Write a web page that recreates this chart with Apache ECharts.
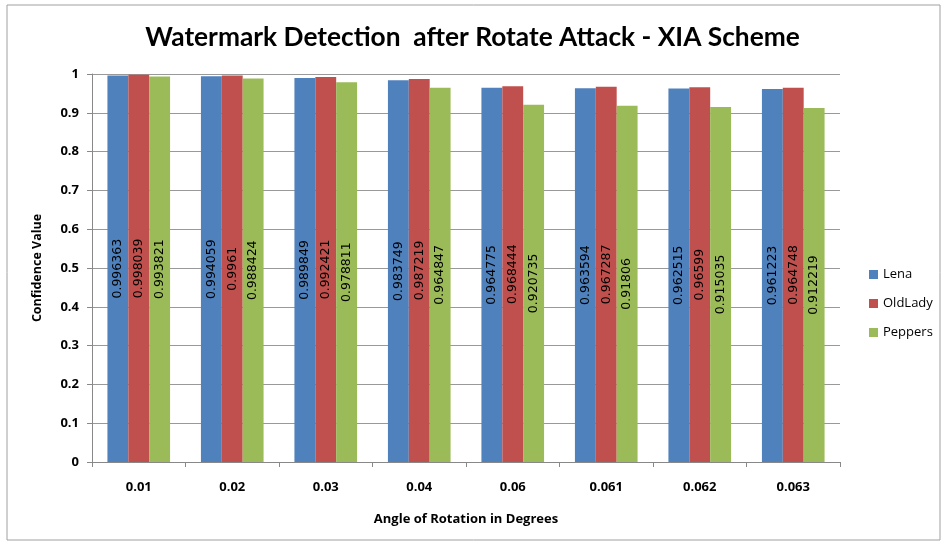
<!DOCTYPE html>
<html><head><meta charset="utf-8">
<script src="https://cdn.jsdelivr.net/npm/echarts@6/dist/echarts.min.js"></script>
<style>html,body{margin:0;padding:0;background:#fff}#c{width:945px;height:545px}</style>
</head><body><div id="c"></div>
<script>
var categories = ['0.01','0.02','0.03','0.04','0.06','0.061','0.062','0.063'];
var lena = [0.996363,0.994059,0.989849,0.983749,0.964775,0.963594,0.962515,0.961223];
var oldLady = [0.998039,0.9961,0.992421,0.987219,0.968444,0.967287,0.96599,0.964748];
var peppers = [0.993821,0.988424,0.978811,0.964847,0.920735,0.91806,0.915035,0.912219];
var yTicks = [0,0.1,0.2,0.3,0.4,0.5,0.6,0.7,0.8,0.9,1];

var chart = echarts.init(document.getElementById('c'));
var tfont = 'Lato, "Open Sans", sans-serif';
var font = '"Open Sans", Lato, sans-serif';
function s(name, data, color){
  return {name:name,type:'bar',data:data,barGap:'0%',barCategoryGap:'33%',
    itemStyle:{color:color},
    label:{show:true,position:'inside',rotate:90,color:'#000',fontSize:12.5,fontFamily:'"DejaVu Sans", sans-serif',
      formatter:function(p){return String(p.value);}}};
}
chart.setOption({
  animation:false,
  title:{text:'Watermark Detection  after Rotate Attack - XIA Scheme',left:'center',top:20,
    textStyle:{fontFamily:tfont,fontSize:26.3,fontWeight:'bold',color:'#000'}},
  graphic:[{type:'rect',shape:{x:7,y:5,width:933,height:535},style:{fill:'none',stroke:'#a0a0a0',lineWidth:1}}],
  legend:{orient:'vertical',left:864,top:261,itemGap:12,itemWidth:9,itemHeight:9,icon:'rect',
    textStyle:{fontFamily:font,fontSize:13,color:'#000',lineHeight:17},data:['Lena','OldLady','Peppers']},
  grid:{left:92,right:105,top:74,bottom:83},
  xAxis:{type:'category',data:categories,name:'Angle of Rotation in Degrees',nameLocation:'middle',nameGap:51,
    nameTextStyle:{fontFamily:font,fontSize:13,fontWeight:'bold',color:'#000'},
    axisLine:{lineStyle:{color:'#888'}},axisTick:{show:true,length:5,lineStyle:{color:'#888'}},
    axisLabel:{fontFamily:font,fontSize:13,fontWeight:'bold',color:'#000',margin:19}},
  yAxis:{type:'value',min:0,max:1,interval:0.1,name:'Confidence Value',nameLocation:'middle',nameGap:48,
    nameTextStyle:{fontFamily:font,fontSize:12.5,fontWeight:'bold',color:'#000'},
    axisLine:{show:true,lineStyle:{color:'#888'}},axisTick:{show:true,length:5,lineStyle:{color:'#888'}},
    splitLine:{lineStyle:{color:'#999'}},
    axisLabel:{fontFamily:font,fontSize:13,fontWeight:'bold',color:'#000',margin:13,
      formatter:function(v){var t=yTicks.filter(function(x){return Math.abs(x-v)<1e-9;});return t.length?String(+v.toFixed(1)):'';}}},
  series:[s('Lena',lena,'#4F81BD'),s('OldLady',oldLady,'#C0504D'),s('Peppers',peppers,'#9BBB59')]
});
</script></body></html>
